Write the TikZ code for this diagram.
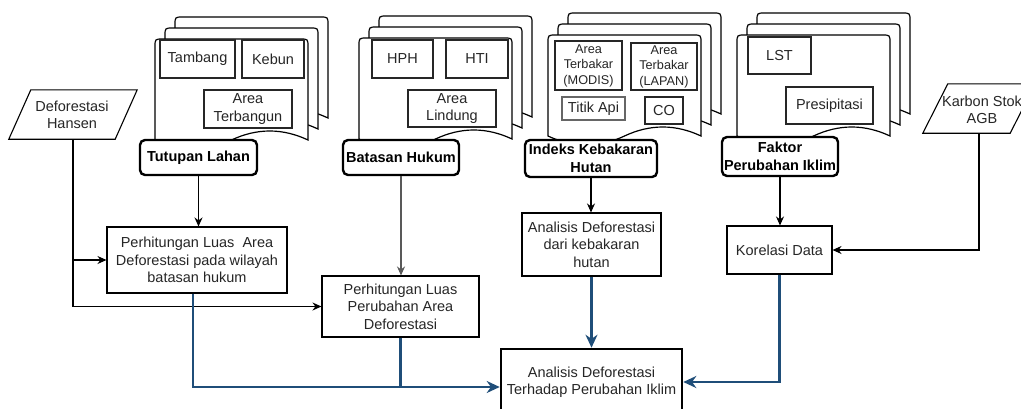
\documentclass[tikz,border=0pt]{standalone}
\usepackage{fontspec}
\setmainfont{Liberation Sans}
\usetikzlibrary{arrows.meta}
\definecolor{blueline}{RGB}{31,78,121}
\definecolor{txt}{HTML}{262626}
\newcommand\docpage[2]{%
  \filldraw[page] (#1,{#2+101}) -- (#1,{#2+8}) .. controls (#1,#2) .. ({#1+8},#2)
    -- ({#1+145},#2) .. controls ({#1+153},#2) .. ({#1+153},{#2+8})
    -- ({#1+153},{#2+101})
    .. controls ({#1+127.5},{#2+89}) and ({#1+102},{#2+89}) .. ({#1+76.5},{#2+101})
    .. controls ({#1+51},{#2+113}) and ({#1+25.5},{#2+113}) .. (#1,{#2+101}) -- cycle;}
\begin{document}
\begin{tikzpicture}[x=1pt,y=-1pt,
  every node/.style={font=\fontsize{14.5}{17.4}\selectfont, text=txt, inner sep=0pt, align=center},
  proc/.style={draw=black, line width=1.1pt, fill=white},
  finbox/.style={draw=black, line width=2.6pt, fill=white},
  lab/.style={draw=black, line width=2.4pt, rounded corners=5pt, fill=white, font=\fontsize{14.5}{17.4}\selectfont\bfseries, text=black},
  item/.style={draw=txt, line width=1.3pt, fill=white},
  smallitem/.style={item, font=\fontsize{12.7}{15.5}\selectfont},
  page/.style={draw=black, line width=1.2pt, fill=white},
  conn/.style={draw=black, line width=1.1pt, -{Stealth[length=9pt,width=8pt]}},
  gconn/.style={conn, draw=black!65},
  bconn/.style={draw=blueline, line width=2.2pt, -{Stealth[length=13pt,width=12pt]}},
  bline/.style={draw=blueline, line width=2.2pt},
  para/.style={draw=black, line width=1.1pt, fill=white}
]
\fill[white] (0,0) rectangle (1021,408);
\clip (0,0) rectangle (1021,408);

% document stacks
\docpage{175}{17}\docpage{165}{28}\docpage{155}{39}
\docpage{379}{16}\docpage{369}{27}\docpage{359}{38}
\docpage{568}{13}\docpage{558}{24}\docpage{548}{35}
\docpage{757}{13}\docpage{747}{24}\docpage{737}{35}

% Tutupan Lahan items
\node[item, minimum width=75, minimum height=38] (tambang) at (197.5,59) {Tambang};
\node[item, minimum width=62, minimum height=38] (kebun) at (273,59) {Kebun};
\node[item, minimum width=88, minimum height=38] (terbangun) at (248,109) {Area\\Terbangun};
% Batasan Hukum items
\node[item, minimum width=61, minimum height=38] (hph) at (402.5,59) {HPH};
\node[item, minimum width=62, minimum height=38] (hti) at (477,59) {HTI};
\node[item, minimum width=88, minimum height=37] (lindung) at (452,108.5) {Area\\Lindung};
% Indeks items
\node[smallitem, minimum width=67, minimum height=49] (modis) at (588.5,65.5) {Area\\Terbakar\\(MODIS)};
\node[smallitem, minimum width=66, minimum height=47] (lapan) at (664,66.5) {Area\\Terbakar\\(LAPAN)};
\node[item, draw=black!60, minimum width=63, minimum height=23] (titik) at (593.5,108.5) {Titik Api};
\node[item, minimum width=38, minimum height=27] (co) at (664,110.5) {CO};
% Faktor items
\node[item, minimum width=63, minimum height=37] (lst) at (779.5,55.5) {LST};
\node[item, minimum width=87, minimum height=37] (presip) at (829.5,105.5) {Presipitasi};

% label nodes
\node[lab, minimum width=117, minimum height=35] (tut) at (198.5,157.5) {Tutupan Lahan};
\node[lab, minimum width=116, minimum height=35] (bat) at (401,157.5) {Batasan Hukum};
\node[lab, minimum width=132, minimum height=37] (ind) at (591,158.5) {Indeks Kebakaran\\Hutan};
\node[lab, minimum width=116, minimum height=39] (fak) at (780,156.5) {Faktor\\Perubahan Iklim};

% parallelograms
\node[minimum width=128, minimum height=49] (hansen) at (73,114.5) {};
\draw[para] ([xshift=22pt]hansen.north west) -- (hansen.north east) -- ([xshift=-22pt]hansen.south east) -- (hansen.south west) -- cycle;
\node at (72,115) {Deforestasi\\Hansen};
\node[minimum width=112, minimum height=49] (karbon) at (979,108.5) {};
\draw[para] ([xshift=25pt]karbon.north west) -- (karbon.north east) -- ([xshift=-25pt]karbon.south east) -- (karbon.south west) -- cycle;
\node at (982,110) {Karbon Stok\\AGB};

% process boxes
\node[proc, minimum width=180, minimum height=66] (b1) at (197,260) {Perhitungan Luas\ \ Area\\Deforestasi pada wilayah\\batasan hukum};
\node[proc, minimum width=157, minimum height=61] (b2) at (400.5,306.5) {Perhitungan Luas\\Perubahan Area\\Deforestasi};
\node[proc, minimum width=139, minimum height=63] (b3) at (591.5,244.5) {Analisis Deforestasi\\dari kebakaran\\hutan};
\node[proc, minimum width=105, minimum height=48] (kor) at (779.5,250) {Korelasi Data};
\node[finbox, minimum width=181, minimum height=66] (fin) at (591.5,382) {Analisis Deforestasi\\Terhadap Perubahan Iklim};

% black connectors
\draw[conn] (tut.south) -- (tut.south |- b1.north);
\draw[gconn] (bat.south) -- (bat.south |- b2.north);
\draw[conn] (ind.south) -- (ind.south |- b3.north);
\draw[conn] (fak.south) -- (fak.south |- kor.north);
\draw[conn] (hansen.south) -- (hansen.south |- b1.west) -- (b1.west);
\draw[conn] (hansen.south |- b1.west) -- (hansen.south |- b2.west) -- (b2.west);
\draw[conn] (karbon.south) -- (karbon.south |- kor.east) -- (kor.east);

% blue connectors
\coordinate (fl) at ([yshift=-5pt]fin.west);
\draw[bconn] ([xshift=-4pt]b1.south) |- (fl);
\draw[bline] (b2.south) -- (b2.south |- fl);
\draw[bconn] (b3.south) -- (b3.south |- fin.north);
\draw[bconn] (kor.south) |- (fin.east);
\end{tikzpicture}
\end{document}
